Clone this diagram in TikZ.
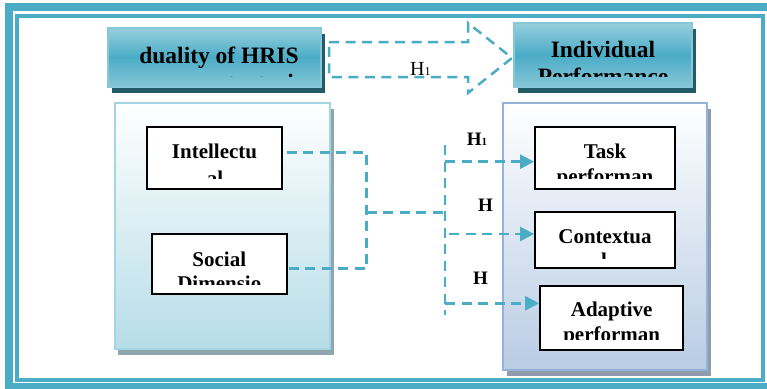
\documentclass[tikz,border=0pt]{standalone}
\usepackage{fontspec}
\setmainfont{Liberation Serif}
\usetikzlibrary{arrows.meta,calc}
\definecolor{acc}{HTML}{4BACC6}
\definecolor{topedge}{HTML}{86C7D8}
\definecolor{tca}{HTML}{96CFDE}
\definecolor{tcb}{HTML}{4BACC6}
\definecolor{tcc}{HTML}{86C6D8}
\definecolor{topshadow}{HTML}{245B69}
\definecolor{lpedge}{HTML}{A5D5E2}
\definecolor{lpbot}{HTML}{B6DDE8}
\definecolor{lpshadow}{HTML}{8FA6AF}
\definecolor{rpedge}{HTML}{95B3D7}
\definecolor{rpbot}{HTML}{B8CCE4}
\definecolor{rpshadow}{HTML}{8E9CAC}
\tikzset{
  dline/.style={draw=acc, line width=2.5pt, dash pattern=on 10pt off 6.5pt},
  darr/.style={dline, -{Triangle[length=14pt,width=14pt]}},
  topbox/.style={draw=topedge, line width=2pt, top color=tca, bottom color=tcc, middle color=tcb, inner sep=0},
  wbox/.style={draw=black, line width=1.8pt, fill=white, inner sep=0},
  bigtxt/.style={font=\bfseries\fontsize{23.5}{27}\selectfont, anchor=base, inner sep=0},
  smtxt/.style={font=\bfseries\fontsize{21}{24}\selectfont, anchor=base, inner sep=0},
  hlab/.style={anchor=base west, inner sep=0},
}
\begin{document}
\begin{tikzpicture}[x=1pt,y=-1pt]
\clip (0,0) rectangle (767,388);
\fill[white] (0,0) rectangle (767,388);
% frame
\draw[acc, line width=8pt] (9,7) rectangle (780,387);
\draw[acc, line width=3.5pt] (17,16) rectangle (762.8,380);
% shadows
\fill[topshadow] (112,34) rectangle (325,93);
\fill[topshadow] (518,29) rectangle (696,93);
\fill[lpshadow] (118,109) rectangle (333.5,355);
\fill[rpshadow] (507,109) rectangle (711,376);
% panels
\node[draw=lpedge, line width=2.5pt, top color=white, bottom color=lpbot, minimum width=215pt, minimum height=246pt, inner sep=0] (lpanel) at (222.5,226) {};
\node[draw=rpedge, line width=2.5pt, top color=white, bottom color=rpbot, minimum width=204pt, minimum height=267pt, inner sep=0] (rpanel) at (605,236.5) {};
% top boxes
\node[topbox, minimum width=213pt, minimum height=59pt] (hris) at (214.5,57.5) {};
\node[topbox, minimum width=178pt, minimum height=64pt] (indiv) at (603,55) {};
% white boxes
\node[wbox, minimum width=135pt, minimum height=62pt] (intel) at (214.5,158) {};
\node[wbox, minimum width=135pt, minimum height=60pt] (social) at (219.5,264) {};
\node[wbox, minimum width=140pt, minimum height=62pt] (task) at (605,158) {};
\node[wbox, minimum width=140pt, minimum height=56pt] (ctx) at (605,240) {};
\node[wbox, minimum width=143pt, minimum height=64pt] (adapt) at (611.5,318) {};
% texts
\node[bigtxt] (hris1) at (219,63.3) {duality of HRIS};
\begin{scope}\clip (110,66) rectangle (320,76.5);
\node[bigtxt] (hris2) at (217,90) {usage as strategic};
\end{scope}
\node[bigtxt] (indiv1) at (603,57.3) {Individual};
\begin{scope}\clip (516,60) rectangle (690,76.5);
\node[bigtxt] (indiv2) at (603,84.5) {Performance};
\end{scope}
\node[smtxt] (intel1) at (214.5,158.3) {Intellectu};
\begin{scope}\clip (149,162) rectangle (280,178);
\node[smtxt] (intel2) at (215,185) {al};
\end{scope}
\node[smtxt] (social1) at (219.3,266) {Social};
\begin{scope}\clip (154,270) rectangle (285,284);
\node[smtxt] (social2) at (219.3,290.5) {Dimensio};
\end{scope}
\node[smtxt] (task1) at (605,158.3) {Task};
\begin{scope}\clip (537,162) rectangle (673,178.3);
\node[smtxt] (task2) at (605,183) {performan};
\end{scope}
\node[smtxt] (ctx1) at (605,243) {Contextua};
\begin{scope}\clip (537,247) rectangle (673,258.3);
\node[smtxt] (ctx2) at (604,267.6) {l};
\end{scope}
\node[smtxt] (adapt1) at (611.7,316.7) {Adaptive};
\begin{scope}\clip (542,321) rectangle (681,339);
\node[smtxt] (adapt2) at (611.7,341) {performan};
\end{scope}
% H labels
\node[hlab, font=\fontsize{20}{20}\selectfont] (h0) at (410,75) {H{\fontsize{12}{12}\selectfont 1}};
\node[hlab, font=\bfseries\fontsize{19}{19}\selectfont] (h1) at (466.7,145) {H{\fontsize{11}{11}\selectfont 1}};
\node[hlab, font=\bfseries\fontsize{19}{19}\selectfont] (h2) at (478,211.7) {H};
\node[hlab, font=\bfseries\fontsize{19}{19}\selectfont] (h3) at (473,284.3) {H};
% big dashed arrow outline
\draw[dline, line join=miter] ($(hris.east)+(7,-15.5)$) coordinate (ba0) -- (468,42) -- (468,23) -- ($(indiv.west)+(-1,3)$) -- (468,93) -- (468,77) -- ($(hris.east)+(7,19.5)$) -- cycle;
% left connectors
\coordinate (j) at (366.7,212.7);
\coordinate (k) at (443,212.7);
\draw[dline] ($(intel.east)+(4,-5.7)$) -| (j) |- ($(social.east)+(0,4.3)$);
\draw[dline] (j) -- (k);
\coordinate (vtop) at (445,145);
\coordinate (vbot) at (445,315);
\draw[dline] (vtop) -- (vbot);
\coordinate (a1) at (445,161.7);
\coordinate (a2) at (449,234);
\coordinate (a3) at (445,303.3);
\draw[darr] (a1) -- (a1 -| task.west);
\draw[darr] (a2) -- (a2 -| ctx.west);
\draw[darr] (a3) -- (a3 -| adapt.west);
\end{tikzpicture}
\end{document}
